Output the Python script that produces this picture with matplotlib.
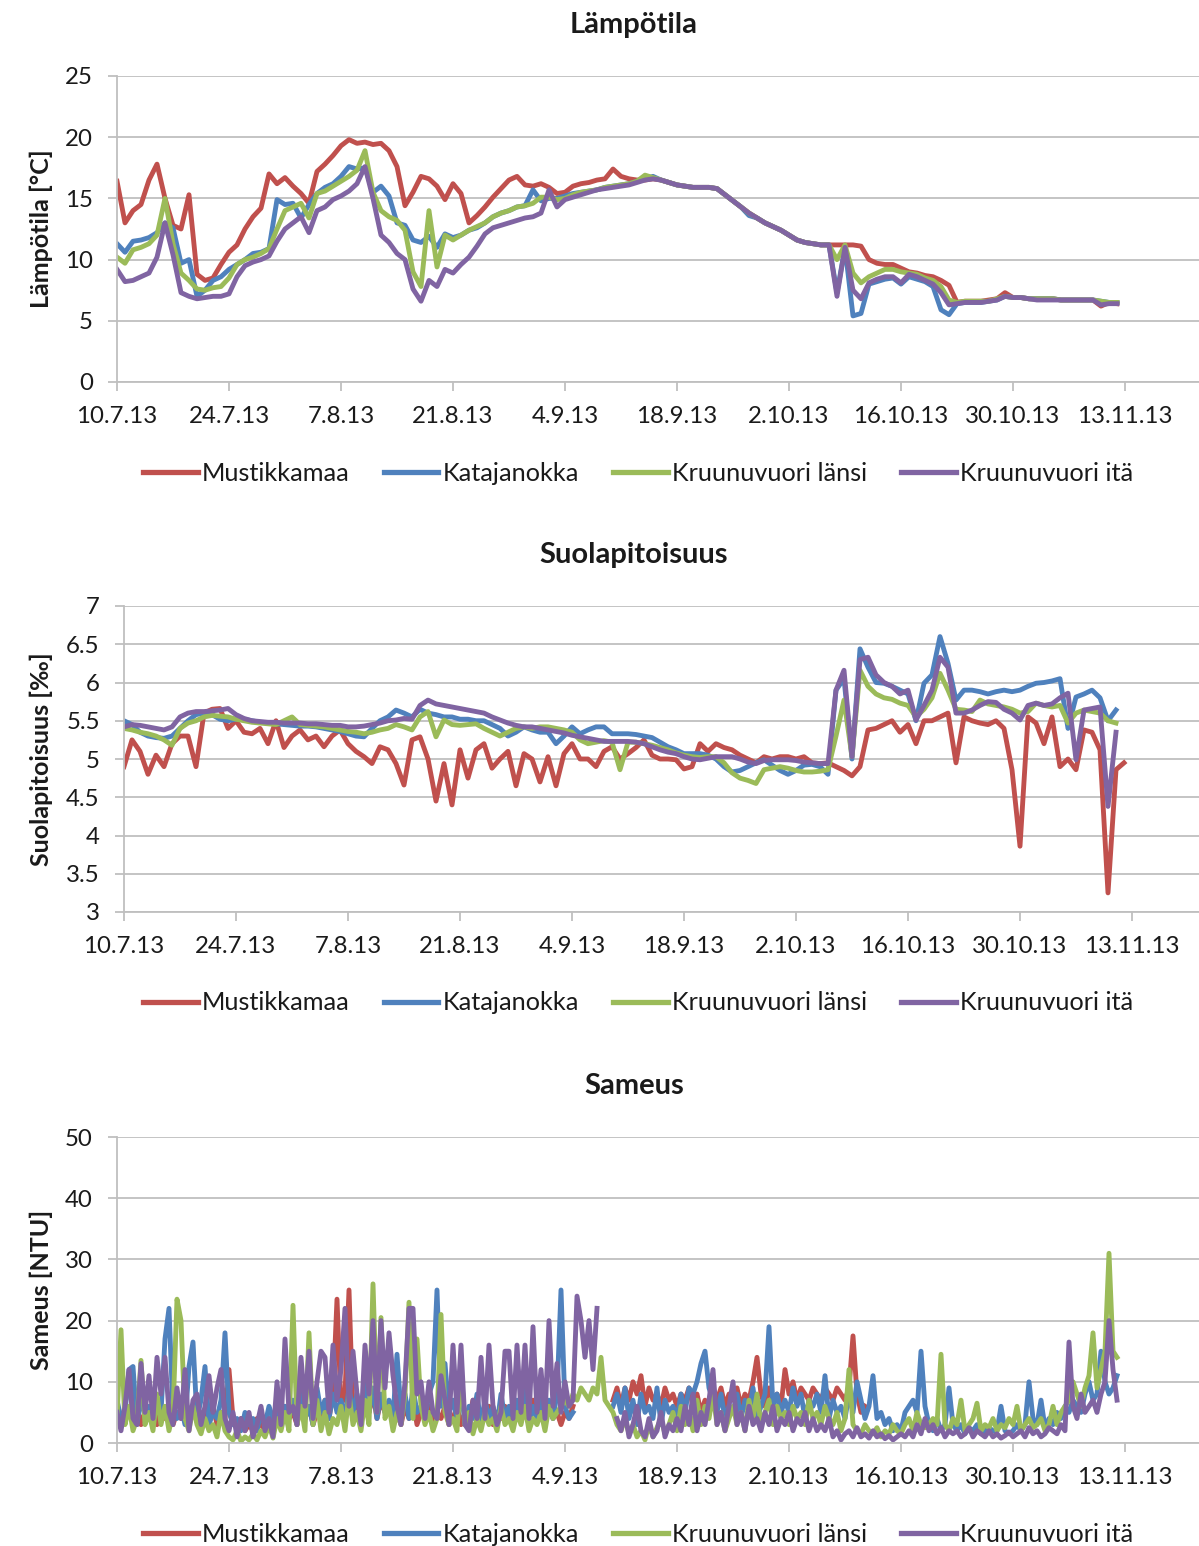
import numpy as np
import matplotlib.pyplot as plt

nan = np.nan
plt.rcParams['font.family'] = ['Lato', 'DejaVu Sans']

# --- data ---
sites = ['Mustikkamaa', 'Katajanokka', 'Kruunuvuori länsi', 'Kruunuvuori itä']
colors = ['#C0504D', '#4F81BD', '#9BBB59', '#8064A2']
date_labels = ['10.7.13', '24.7.13', '7.8.13', '21.8.13', '4.9.13',
               '18.9.13', '2.10.13', '16.10.13', '30.10.13', '13.11.13']
tick_days = [0, 14, 28, 42, 56, 70, 84, 98, 112, 126]

# daily values, day 0 = 10.7.13
temp_mustikkamaa = [
    16.4, 13.0, 14.0, 14.5, 16.5, 17.8, 15.0, 12.8, 12.5, 15.3,
    8.8, 8.3, 8.5, 9.6, 10.6, 11.2, 12.5, 13.5, 14.2, 17.0,
    16.2, 16.7, 16.0, 15.4, 14.6, 17.2, 17.8, 18.5, 19.3, 19.8,
    19.5, 19.6, 19.4, 19.5, 18.9, 17.6, 14.4, 15.5, 16.8, 16.6,
    16.0, 14.9, 16.2, 15.4, 13.0, 13.6, 14.3, 15.1, 15.8, 16.5,
    16.8, 16.1, 16.0, 16.2, 15.9, 15.4, 15.5, 16.0, 16.2, 16.3,
    16.5, 16.6, 17.4, 16.8, 16.6, 16.5, 16.5, 16.6, 16.5, 16.3,
    16.1, 16.0, 15.9, 15.9, 15.9, 15.8, 15.3, 14.8, 14.3, 13.8,
    13.4, 13.0, 12.7, 12.4, 12.0, 11.6, 11.4, 11.3, 11.2, 11.2,
    11.2, 11.2, 11.2, 11.1, 10.0, 9.7, 9.6, 9.6, 9.3, 9.0,
    8.9, 8.7, 8.6, 8.3, 7.9, 6.5, 6.6, 6.6, 6.6, 6.7,
    6.8, 7.3, 6.9, 6.9, 6.8, 6.8, 6.8, 6.8, 6.7, 6.7,
    6.7, 6.7, 6.7, 6.2, 6.5, 6.4]
temp_katajanokka = [
    11.3, 10.6, 11.5, 11.6, 11.8, 12.2, 13.0, 12.6, 9.7, 10.0,
    7.0, 7.5, 8.3, 8.6, 9.2, 9.6, 10.0, 10.5, 10.6, 10.9,
    14.9, 14.5, 14.6, 13.4, 14.5, 15.4, 15.9, 16.2, 16.8, 17.6,
    17.4, 17.5, 15.5, 16.0, 15.2, 13.0, 12.8, 11.6, 11.4, 11.9,
    11.0, 12.1, 11.8, 12.0, 12.4, 12.6, 13.0, 13.5, 13.8, 14.0,
    14.3, 14.4, 15.7, 14.8, 15.0, 15.0, 15.2, 15.4, 15.5, 15.6,
    15.7, 15.9, 16.0, 16.1, 16.2, 16.4, 16.6, 16.8, 16.5, 16.3,
    16.1, 16.0, 15.9, 15.9, 15.9, 15.8, 15.3, 14.8, 14.3, 13.6,
    13.4, 13.0, 12.7, 12.4, 12.0, 11.6, 11.4, 11.3, 11.2, 11.2,
    7.3, 11.0, 5.4, 5.6, 8.0, 8.2, 8.4, 8.5, 8.0, 8.6,
    8.4, 8.2, 7.8, 5.9, 5.5, 6.4, 6.5, 6.5, 6.5, 6.6,
    6.7, 7.0, 6.9, 6.9, 6.8, 6.8, 6.8, 6.8, 6.7, 6.7,
    6.7, 6.7, 6.7, 6.6, 6.5, 6.5]
temp_kruunuvuori_l = [
    10.2, 9.7, 10.8, 11.0, 11.3, 12.0, 15.0, 11.3, 8.9, 8.3,
    7.6, 7.5, 7.7, 7.8, 8.5, 9.6, 10.0, 10.2, 10.5, 10.9,
    12.5, 14.0, 14.3, 14.6, 13.4, 15.4, 15.6, 16.0, 16.4, 16.8,
    17.3, 18.9, 15.5, 14.0, 13.5, 13.2, 12.4, 9.0, 7.8, 14.0,
    9.4, 12.0, 11.6, 12.0, 12.4, 12.7, 13.0, 13.5, 13.8, 14.0,
    14.3, 14.4, 14.6, 15.1, 15.1, 14.9, 15.0, 15.3, 15.5, 15.6,
    15.7, 15.9, 16.0, 16.1, 16.2, 16.4, 16.9, 16.7, 16.5, 16.3,
    16.1, 16.0, 15.9, 15.9, 15.9, 15.8, 15.3, 14.8, 14.3, 13.8,
    13.4, 13.0, 12.7, 12.4, 12.0, 11.6, 11.4, 11.3, 11.2, 11.2,
    10.0, 11.2, 8.9, 8.1, 8.6, 8.9, 9.2, 9.2, 9.0, 8.9,
    8.8, 8.5, 8.3, 7.8, 6.7, 6.5, 6.6, 6.6, 6.6, 6.6,
    6.8, 7.0, 6.9, 6.9, 6.8, 6.8, 6.8, 6.8, 6.7, 6.7,
    6.7, 6.7, 6.7, 6.6, 6.5, 6.5]
temp_kruunuvuori_i = [
    9.2, 8.2, 8.3, 8.6, 8.9, 10.2, 13.0, 10.4, 7.3, 7.0,
    6.8, 6.9, 7.0, 7.0, 7.2, 8.6, 9.5, 9.8, 10.0, 10.3,
    11.5, 12.5, 13.0, 13.5, 12.2, 14.0, 14.3, 14.9, 15.2, 15.6,
    16.2, 17.6, 15.0, 12.0, 11.4, 10.5, 10.0, 7.6, 6.6, 8.3,
    7.8, 9.2, 8.9, 9.6, 10.2, 11.1, 12.1, 12.6, 12.8, 13.0,
    13.2, 13.4, 13.5, 13.8, 15.7, 14.3, 14.9, 15.1, 15.3, 15.5,
    15.7, 15.8, 15.9, 16.0, 16.1, 16.3, 16.5, 16.6, 16.5, 16.3,
    16.1, 16.0, 15.9, 15.9, 15.9, 15.8, 15.3, 14.8, 14.3, 13.8,
    13.4, 13.0, 12.7, 12.4, 12.0, 11.6, 11.4, 11.3, 11.2, 11.2,
    7.0, 11.0, 7.5, 6.8, 8.1, 8.4, 8.6, 8.6, 8.1, 8.8,
    8.6, 8.3, 8.0, 7.3, 6.3, 6.4, 6.5, 6.5, 6.5, 6.6,
    6.7, 7.0, 6.9, 6.9, 6.8, 6.7, 6.7, 6.7, 6.7, 6.7,
    6.7, 6.7, 6.7, 6.3, 6.4, 6.4]

sal_mustikkamaa = [
    4.9, 5.25, 5.1, 4.8, 5.05, 4.9, 5.2, 5.3, 5.3, 4.9,
    5.6, 5.65, 5.66, 5.4, 5.5, 5.35, 5.33, 5.4, 5.2, 5.5,
    5.15, 5.3, 5.38, 5.25, 5.3, 5.16, 5.3, 5.38, 5.2, 5.1,
    5.03, 4.94, 5.16, 5.12, 4.94, 4.66, 5.25, 5.29, 5.0, 4.45,
    4.94, 4.4, 5.12, 4.75, 5.12, 5.2, 4.88, 5.0, 5.1, 4.65,
    5.07, 5.0, 4.7, 5.03, 4.65, 5.07, 5.2, 5.0, 5.0, 4.9,
    5.1, 5.16, 5.0, 5.07, 5.15, 5.25, 5.05, 5.0, 5.0, 4.99,
    4.87, 4.9, 5.2, 5.1, 5.2, 5.15, 5.12, 5.05, 5.0, 4.95,
    5.03, 5.0, 5.03, 5.03, 5.0, 5.03, 4.95, 4.94, 4.95, 4.9,
    4.85, 4.78, 4.9, 5.38, 5.4, 5.45, 5.5, 5.35, 5.45, 5.2,
    5.5, 5.5, 5.55, 5.6, 4.95, 5.55, 5.5, 5.47, 5.45, 5.5,
    5.4, 4.86, 3.86, 5.55, 5.47, 5.2, 5.55, 4.9, 5.0, 4.86,
    5.38, 5.35, 5.12, 3.25, 4.86, 4.95]
sal_katajanokka = [
    5.5, 5.45, 5.35, 5.3, 5.28, 5.27, 5.3, 5.4, 5.5, 5.58,
    5.6, 5.58, 5.52, 5.5, 5.52, 5.52, 5.5, 5.48, 5.47, 5.46,
    5.45, 5.44, 5.43, 5.43, 5.42, 5.4, 5.38, 5.36, 5.33, 5.3,
    5.29, 5.4, 5.5, 5.55, 5.64, 5.6, 5.55, 5.65, 5.6, 5.58,
    5.55, 5.55, 5.52, 5.52, 5.5, 5.5, 5.45, 5.4, 5.3, 5.35,
    5.42, 5.38, 5.35, 5.35, 5.2, 5.3, 5.42, 5.33, 5.38, 5.42,
    5.42, 5.33, 5.33, 5.33, 5.32, 5.3, 5.28, 5.22, 5.16, 5.12,
    5.07, 5.07, 5.07, 5.05, 5.0, 4.9, 4.83, 4.85, 4.9, 4.95,
    4.99, 4.92, 4.85, 4.8, 4.85, 4.92, 4.93, 4.9, 4.8, 5.9,
    6.05, 5.0, 6.44, 6.2, 6.0, 5.99, 5.95, 5.9, 5.85, 5.5,
    5.99, 6.1, 6.6, 6.25, 5.77, 5.9, 5.9, 5.88, 5.85, 5.88,
    5.9, 5.88, 5.9, 5.95, 5.99, 6.0, 6.02, 6.05, 5.4, 5.81,
    5.85, 5.9, 5.8, 5.5, 5.64, nan]
sal_kruunuvuori_l = [
    5.4, 5.38, 5.35, 5.33, 5.3, 5.25, 5.18, 5.4, 5.47, 5.5,
    5.55, 5.57, 5.56, 5.55, 5.52, 5.5, 5.48, 5.47, 5.46, 5.45,
    5.5, 5.55, 5.45, 5.44, 5.43, 5.42, 5.4, 5.38, 5.36, 5.35,
    5.33, 5.35, 5.38, 5.4, 5.45, 5.42, 5.38, 5.55, 5.62, 5.29,
    5.51, 5.45, 5.44, 5.45, 5.46, 5.4, 5.35, 5.3, 5.35, 5.4,
    5.42, 5.4, 5.42, 5.42, 5.4, 5.38, 5.35, 5.25, 5.2, 5.22,
    5.24, 5.22, 4.86, 5.22, 5.22, 5.2, 5.18, 5.15, 5.12, 5.08,
    5.05, 5.03, 5.02, 5.03, 5.03, 4.95, 4.82, 4.75, 4.72, 4.68,
    4.86, 4.88, 4.9, 4.88, 4.85, 4.83, 4.83, 4.84, 4.86, 5.3,
    5.77, 5.03, 6.16, 5.95, 5.85, 5.8, 5.78, 5.73, 5.7, 5.55,
    5.65, 5.8, 6.12, 5.9, 5.65, 5.64, 5.62, 5.77, 5.72, 5.7,
    5.68, 5.65, 5.6, 5.62, 5.73, 5.7, 5.68, 5.7, 5.47, 5.6,
    5.64, 5.62, 5.6, 5.5, 5.47, nan]
sal_kruunuvuori_i = [
    5.42, 5.45, 5.44, 5.42, 5.4, 5.38, 5.42, 5.55, 5.6, 5.62,
    5.62, 5.63, 5.64, 5.66, 5.58, 5.53, 5.5, 5.49, 5.48, 5.48,
    5.47, 5.47, 5.47, 5.46, 5.46, 5.45, 5.44, 5.44, 5.42, 5.42,
    5.43, 5.45, 5.47, 5.5, 5.51, 5.53, 5.52, 5.7, 5.77, 5.72,
    5.7, 5.68, 5.66, 5.64, 5.62, 5.6, 5.55, 5.51, 5.47, 5.44,
    5.42, 5.42, 5.4, 5.38, 5.36, 5.34, 5.31, 5.29, 5.27, 5.25,
    5.23, 5.23, 5.23, 5.23, 5.22, 5.2, 5.16, 5.12, 5.09, 5.07,
    5.03, 5.0, 4.99, 5.01, 5.03, 5.03, 5.03, 5.0, 4.96, 4.94,
    4.98, 4.99, 4.99, 4.99, 4.98, 4.96, 4.95, 4.94, 4.94, 5.9,
    6.16, 5.03, 6.3, 6.33, 6.1, 6.0, 5.95, 5.85, 5.9, 5.51,
    5.7, 5.9, 6.33, 6.2, 5.6, 5.6, 5.64, 5.7, 5.75, 5.74,
    5.65, 5.6, 5.51, 5.7, 5.73, 5.7, 5.72, 5.8, 5.86, 4.99,
    5.64, 5.66, 5.68, 4.38, 5.35, nan]

# half-daily values, one row per week
ntu_mustikkamaa = [
    5, 3, 6, 11.5, 4, 6, 3, 5, 4, 7, 3, 5, 4, 6,
    3, 5, 4, 6, 3, 5, 4, 3, 5, 4, 6, 3, 5, 4,
    12, 4, 3, 4, 2, 3, 2, 4, 3, 2, 4, 3, 5, 3,
    6, 4, 5, 3, 7, 4, 6, 3, 5, 4, 7, 4, 8, 23.5,
    6, 8, 25, 5, 7, 4, 9, 5, 8, 4, 7, 5, 6, 4,
    5, 3, 6, 4, 7, 3, 5, 4, 6, 3, 5, 4, 6, 3,
    4, 6, 3, 5, 4, 7, 3, 5, 4, 6, 3, 5, 4, 6,
    5, 3, 6, 4, 5, 3, 7, 4, 5, 3, 6, 4, 5, 3,
    5, 4, 6, nan, nan, nan, nan, nan, nan, nan, nan, nan, 7, 9,
    6, 9, 7, 10, 8, 11, 6, 9, 7, 8, 6, 9, 7, 8,
    6, 8, 7, 9, 6, 8, 5, 7, 6, 8, 7, 9, 6, 8,
    7, 9, 6, 8, 7, 10, 14, 8, 6, 9, 7, 8, 6, 12,
    8, 10, 7, 9, 8, 7, 9, 8, 7, 9, 8, 7, 9, 8,
    7, 9, 17.5, 8, 5, 6, nan, nan, nan, nan, nan, nan, nan, nan,
    nan, nan, nan, nan, nan, nan, nan, nan, nan, nan, nan, nan, nan, nan,
    nan, nan, nan, nan, nan, nan, nan, nan, nan, nan, nan, nan, nan, nan,
    nan, nan, nan, nan, nan, nan, nan, nan, nan, nan, nan, nan, nan, nan,
    nan, nan, nan, nan, nan, nan, nan, nan, nan, nan, nan, nan, nan, nan]
ntu_katajanokka = [
    7, 4, 5, 12, 12.5, 3, 8, 4, 6, 3, 7, 5, 17, 22,
    5, 4, 6, 3, 12.5, 16.5, 4, 7, 12.5, 3, 5, 4, 7, 18,
    5, 3, 4, 2, 5, 3, 4, 2, 5, 3, 6, 4, 5, 3,
    6, 4, 7, 3, 8, 4, 6, 3, 9, 5, 7, 4, 8, 5,
    7, 4, 9, 5, 8, 4, 10, 5, 9, 4, 8, 5, 7, 4,
    14.5, 5, 8, 4, 9, 5, 6, 4, 8, 10, 25, 6, 13, 5,
    7, 4, 9, 3, 6, 4, 8, 3, 7, 4, 6, 3, 8, 4,
    6, 3, 7, 4, 9, 3, 6, 4, 8, 3, 7, 4, 8, 25,
    6, 4, 5, nan, nan, nan, nan, nan, nan, nan, nan, nan, 6, 8,
    5, 9, 4, 7, 3, 8, 5, 6, 4, 9, 3, 7, 5, 6,
    4, 8, 5, 9, 8, 10, 13, 15, 9, 7, 5, 8, 4, 6,
    5, 8, 4, 7, 5, 9, 4, 6, 8, 19, 6, 8, 5, 7,
    5, 9, 6, 8, 4, 7, 6, 8, 5, 11, 4, 7, 5, 6,
    4, 8, 5, 10, 7, 4, 6, 11, 4, 5, 3, 4, 2, 3,
    2, 5, 6, 7, 5, 15, 6, 3, 2, 4, 2, 3, 9, 3,
    2, 3, 1.5, 2.5, 2, 3, 1.5, 2, 2.5, 2, 2, 6, 2, 1.5,
    2, 3, 2, 3, 10, 4, 3, 7, 2.5, 4, 3, 5, 4, 6,
    5, 7, 6, 5, 8, 10, 7, 8, 15, 10, 8, 9, 11, nan]
ntu_kruunuvuori_l = [
    4, 18.5, 3, 6, 2, 4, 13.5, 3, 5, 2, 8, 3, 6, 2,
    5, 23.5, 20, 4, 2, 6, 3, 1.5, 4, 2, 3, 1, 5, 2,
    1, 0.5, 2, 0.3, 1, 0.5, 1.5, 0.5, 2, 1, 3, 0.8, 4, 2,
    5, 2, 22.5, 3, 6, 2, 18, 3, 7, 2, 5, 1.5, 4, 3,
    6, 2, 8, 3, 5, 2, 7, 3, 26, 5, 20.5, 4, 6, 2,
    5, 3, 8, 23, 4, 17, 6, 3, 5, 2, 4, 21, 5, 3,
    4, 2, 12, 3, 5, 1.5, 4, 2, 5, 3, 4, 2, 6, 3,
    4, 2, 5, 3, 6, 2, 4, 3, 5, 2, 6, 4, 5, 6,
    7, 6, 8, 7, 9, 8, 7, 9, 8, 14, 7, 6, 5, 3,
    2, 4, 1.5, 3, 1, 2, 0.5, 3, 1, 2.5, 4, 1.5, 3, 5,
    2, 6, 3, 5, 2, 7, 3, 6, 4, 8, 3, 5, 2, 4,
    6, 3, 5, 2, 7, 4, 8, 3, 5, 7, 3, 6, 4, 5,
    3, 6, 4, 5, 3, 7, 4, 5, 3, 6, 4, 3, 5, 2,
    4, 12, 3, 2, 1.5, 3, 2, 1.5, 2.5, 1, 2, 1.5, 3, 2,
    1.5, 3, 4, 2, 5, 3, 2.5, 3, 4, 3, 14.5, 3, 2, 4,
    3, 7, 2, 3, 4, 6.5, 2, 3, 2.5, 4, 2, 3, 2.5, 4,
    3, 6, 2, 3, 4, 2.5, 3, 4, 2, 3, 6, 3, 5, 6,
    7, 10, 8, 6, 9, 11, 18, 9, 12, 15, 31, 15, 14, nan]
ntu_kruunuvuori_i = [
    5, 2, 6, 12, 4, 3, 13, 5, 11, 4, 14, 8, 14, 5,
    3, 9, 4, 12, 2, 7, 8, 3, 6, 11, 5, 9, 12, 4,
    2, 5, 1, 4, 2, 5, 1, 3, 6, 2, 4, 1, 10, 3,
    17, 5, 6, 3, 14, 6, 15, 4, 10, 15, 14, 5, 16, 7,
    12, 22, 6, 15, 8, 3, 16, 8, 20, 5, 20, 9, 18, 11,
    6, 3, 10, 22, 22, 8, 10, 4, 10, 5, 4, 11, 7, 3,
    16, 5, 16, 3, 2, 7, 4, 14, 4, 16, 6, 3, 5, 15,
    15, 4, 16, 5, 16, 4, 19, 5, 12, 4, 20, 6, 13, 5,
    10, 6, 7, 24, 20, 14, 20, 12, 22, nan, nan, nan, nan, 4,
    2, 5, 1, 3, 6, 2, 1, 4, 1, 2, 5, 1, 3, 2,
    4, 2, 6, 3, 8, 2, 5, 3, 7, 12, 3, 5, 2, 6,
    10, 3, 5, 2, 6, 3, 4, 2, 5, 3, 6, 2, 4, 3,
    5, 2, 4, 3, 5, 2, 4, 2, 3, 2, 4, 1, 2, 0.5,
    1.5, 2, 1, 2.5, 1, 1.5, 0.8, 2, 1, 1.5, 0.7, 1.2, 0.5, 1,
    1.5, 1, 2, 1, 3, 1.5, 4, 2, 3, 1.5, 2.5, 1, 2, 1.5,
    2, 1, 1.5, 2.5, 1, 2, 1.5, 1, 2, 1, 1.5, 0.8, 1.2, 1.8,
    1, 1.5, 2, 1, 2.5, 1.5, 2, 1, 1.5, 2.5, 2, 1.5, 3, 2,
    16.5, 6, 4, 8, 5, 6, 7, 5, 8, 10, 20, 12, 7, nan]

panels = [
    dict(title='Lämpötila', ylabel='Lämpötila [°C]', step=1.0,
         series=[temp_mustikkamaa, temp_katajanokka, temp_kruunuvuori_l, temp_kruunuvuori_i],
         ylim=(0, 25), yticks=np.arange(0, 26, 5), rect=(117, 76, 382)),
    dict(title='Suolapitoisuus', ylabel='Suolapitoisuus [‰]', step=1.0,
         series=[sal_mustikkamaa, sal_katajanokka, sal_kruunuvuori_l, sal_kruunuvuori_i],
         ylim=(3, 7), yticks=np.arange(3, 7.01, 0.5), rect=(124, 606, 912)),
    dict(title='Sameus', ylabel='Sameus [NTU]', step=0.5,
         series=[ntu_mustikkamaa, ntu_katajanokka, ntu_kruunuvuori_l, ntu_kruunuvuori_i],
         ylim=(0, 50), yticks=np.arange(0, 51, 10), rect=(117, 1137, 1443)),
]

W, H = 1199, 1546
fig = plt.figure(figsize=(W / 100, H / 100), dpi=100)
grid_c = '#BFBFBF'
text_c = '#1a1a1a'

for p in panels:
    left, top, bottom = p['rect']
    ax = fig.add_axes([left / W, 1 - bottom / H, 1 - left / W, (bottom - top) / H])
    for vals, c, name in zip(p['series'], colors, sites):
        x = np.arange(len(vals)) * p['step']
        ax.plot(x, vals, color=c, lw=3.5, label=name, solid_joinstyle='round')
    ax.set_xlim(0, (W - left) / 8.0)
    ax.set_ylim(*p['ylim'])
    ax.set_xticks(tick_days)
    ax.set_xticklabels(date_labels)
    ax.set_yticks(p['yticks'])
    ax.set_yticklabels(['%g' % v for v in p['yticks']])
    ax.grid(axis='y', color=grid_c, lw=1.3)
    ax.set_axisbelow(True)
    for s in ['top', 'right']:
        ax.spines[s].set_visible(False)
    for s in ['left', 'bottom']:
        ax.spines[s].set_color(grid_c)
        ax.spines[s].set_linewidth(1.3)
    ax.tick_params(axis='both', colors=grid_c, length=6.5, width=1.3,
                   labelcolor=text_c, labelsize=17.3)
    ax.tick_params(axis='x', pad=11)
    ax.tick_params(axis='y', pad=11)
    ax.set_ylabel(p['ylabel'], fontsize=18, fontweight='bold', color=text_c)
    ax.yaxis.set_label_coords(-(left - 53) / (W - left), 0.5)
    fig.text(634 / W, 1 - (top - 51) / H, p['title'], ha='center', va='center',
             fontsize=21, fontweight='bold', color=text_c)
    h, l = ax.get_legend_handles_labels()
    leg = fig.legend(h, l, loc='center', bbox_to_anchor=(638 / W, 1 - (bottom + 91) / H),
                     ncol=4, frameon=False, fontsize=18.2, handlelength=2.17,
                     handletextpad=0.16, columnspacing=1.35, borderaxespad=0)
    for line in leg.get_lines():
        line.set_linewidth(3.8)
    for t in leg.get_texts():
        t.set_color(text_c)

fig.savefig('out.png', dpi=100)
